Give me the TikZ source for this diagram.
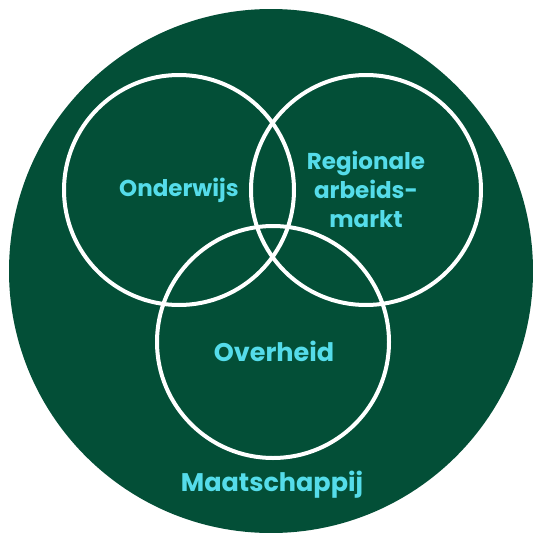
\documentclass[tikz,border=0pt]{standalone}
\usepackage{fontspec}
\newfontfamily\venn{Poppins Bold}
\definecolor{dgreen}{HTML}{034F37}
\definecolor{vcyan}{HTML}{55DCEA}
\begin{document}
\begin{tikzpicture}[x=1pt,y=-1pt,
  ring/.style={draw=white,line width=4pt,circle,minimum size=230pt,inner sep=0pt},
  lbl/.style={text=vcyan,font=\venn\fontsize{23}{29}\selectfont,align=center,inner sep=0pt}]
\useasboundingbox (0,0) rectangle (533,533);
\fill[white] (0,0) rectangle (533,533);
\node[circle,fill=dgreen,minimum size=524pt,inner sep=0pt] (soc) at (271,271) {};
\node[ring] (ow) at (179,190) {};
\node[ring] (ra) at (366,190) {};
\node[ring,minimum size=232pt] (ov) at (273,342) {};
\node[lbl] (tow) at (179,190) {Onderwijs};
\node[lbl] (tra) at (366,189) {Regionale\\arbeids-\\markt};
\node[lbl,font=\venn\fontsize{25.5}{29}\selectfont] (tov) at (274,351) {Overheid};
\node[lbl,font=\venn\fontsize{25.5}{29}\selectfont] (tm) at (272,485) {Maatschappij};
\end{tikzpicture}
\end{document}
